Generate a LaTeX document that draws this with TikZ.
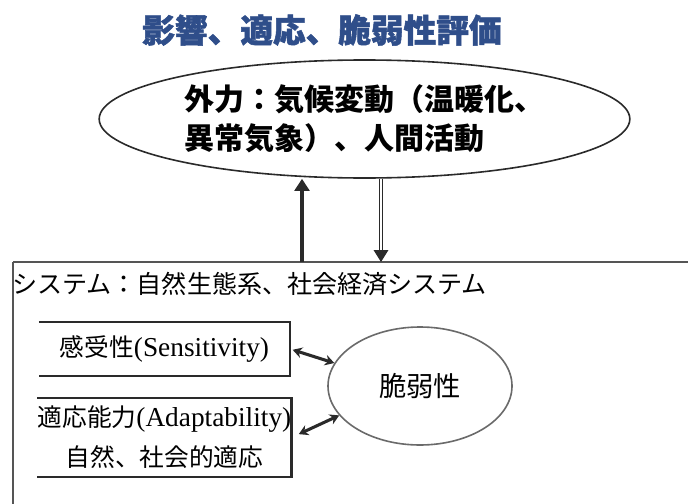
\documentclass[tikz,border=0pt]{standalone}
\usepackage{fontspec}
\setmainfont{Liberation Serif}
\newfontfamily\jpfont{Noto Sans CJK JP}
\newfontfamily\jptitle{Noto Sans CJK JP}[BoldFeatures={FakeBold=1.6}]
\usepackage{tikz}
\usetikzlibrary{positioning,shapes.geometric,arrows.meta}
\definecolor{TitleBlue}{HTML}{2F4E8A}
\definecolor{LineGray}{HTML}{2A2A2A}
\definecolor{FrameGray}{HTML}{555555}
\definecolor{SoftGray}{HTML}{6A6A6A}
\newcommand{\latin}[1]{{\rmfamily\fontsize{20.5}{24}\selectfont #1}}
\tikzset{
  titletext/.style={font=\jptitle\bfseries\fontsize{24.5}{28}\selectfont,text=TitleBlue,inner sep=0pt},
  forcenode/.style={ellipse,draw=LineGray,line width=1.2pt,
    minimum width=398pt,minimum height=88.5pt,inner sep=0pt,
    align=left,font=\jpfont\bfseries\fontsize{22.5}{29.25}\selectfont},
  systext/.style={font=\jpfont\fontsize{18.8}{22}\selectfont,inner sep=0pt,anchor=west},
  factorbox/.style={minimum width=188pt,inner sep=0pt,align=center,
    font=\jpfont\fontsize{18.5}{30}\selectfont},
  vulnode/.style={ellipse,draw=SoftGray,line width=1.2pt,
    minimum width=138pt,minimum height=88.5pt,inner sep=0pt,
    font=\jpfont\fontsize{20.5}{24}\selectfont},
  boxline/.style={draw=LineGray,line width=1.6pt},
  frameline/.style={draw=FrameGray,line width=1.4pt},
  uparrow/.style={draw=LineGray,line width=2.8pt,-{Triangle[width=11pt,length=9pt]}},
  downarrow/.style={draw=LineGray,line width=0.9pt,double,double distance=1.6pt,
    -{Triangle[width=11pt,length=9pt]}},
  linkarrow/.style={draw=LineGray,line width=2.3pt,
    {Stealth[length=7pt,width=8pt]}-{Stealth[length=7pt,width=8pt]},shorten <=2pt},
}
\begin{document}
\begin{tikzpicture}[x=0.75pt,y=-0.75pt]
  \clip (0,0) rectangle (688,503);
  \fill[white] (0,0) rectangle (688,503);
  % title and external forcing
  \node[titletext] (title) at (322,30) {影響、適応、脆弱性評価};
  \node[forcenode] (force) at (364.5,119) {外力：気候変動（温暖化、\\異常気象）、人間活動};
  % system frame
  \draw[frameline] (13,520) -- (13,262);
  \draw[frameline,line width=2pt] (13,262) -- (700,262);
  \node[systext] (sys) at (12,284) {システム：自然生態系、社会経済システム};
  \coordinate (upfoot) at (302,262);
  \coordinate (downfoot) at (381,262);
  \draw[uparrow] (upfoot) -- (upfoot |- force.south);
  \draw[downarrow] (downfoot |- force.south) -- (downfoot);
  % components of vulnerability
  \node[factorbox,minimum height=40.5pt] (sens) at (164.5,349) {感受性\latin{(Sensitivity)}};
  \node[factorbox,minimum height=59pt] (adapt) at (164.5,437.5) {適応能力\latin{(Adaptability)}\\自然、社会的適応};
  \draw[boxline] (sens.north west) -| (sens.south east) -- (sens.south west);
  \draw[boxline] (adapt.north west) -| (adapt.south east) -- (adapt.south west);
  \node[vulnode] (vul) at (420,386) {脆弱性};
  \draw[linkarrow] (sens.east) -- (vul.165);
  \draw[linkarrow,shorten <=6pt] (adapt.east) -- (vul.200);
\end{tikzpicture}
\end{document}
